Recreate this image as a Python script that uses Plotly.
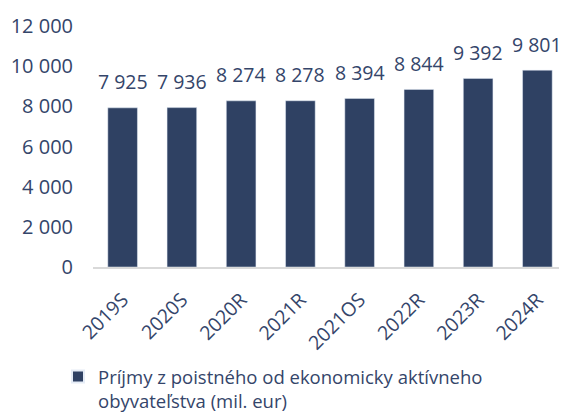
import plotly.graph_objects as go

categories = ["2019S", "2020S", "2020R", "2021R", "2021OS", "2022R", "2023R", "2024R"]
values = [7925, 7936, 8274, 8278, 8394, 8844, 9392, 9801]
tick_vals = [0, 2000, 4000, 6000, 8000, 10000, 12000]
tick_text = ["0", "2 000", "4 000", "6 000", "8 000", "10 000", "12 000"]
series_name = "Príjmy z poistného od ekonomicky aktívneho<br>obyvateľstva (mil. eur)"

bar_color = "#2F4163"
text_color = "#34456A"
font_family = "Open Sans, Noto Sans, sans-serif"

labels = [f"{v:,}".replace(",", " ") for v in values]

fig = go.Figure()
fig.add_trace(go.Bar(
    x=categories, y=values, name=series_name,
    marker_color=bar_color,
    showlegend=True,
))

for cat, val, lab in zip(categories, values, labels):
    fig.add_annotation(
        x=cat, y=val, text=lab, showarrow=False,
        xanchor="center", yanchor="middle", yshift=26,
        font=dict(size=19.5, color=text_color, family=font_family),
    )

# page body adds an 8px offset, so the figure is 8px smaller than the window
fig.update_layout(
    width=559, height=407,
    margin=dict(l=85, r=0, t=18, b=148),
    plot_bgcolor="white", paper_bgcolor="white",
    bargap=0.5,
    font=dict(family=font_family, size=20, color=text_color),
    xaxis=dict(tickangle=-45, showgrid=False, showline=True, linecolor="#D9D9D9",
               linewidth=1.5, ticks="", automargin=False, ticklabelstandoff=12,
               tickfont=dict(size=19.5, color=text_color)),
    yaxis=dict(range=[0, 12000], tickvals=tick_vals, ticktext=tick_text,
               showgrid=False, zeroline=False, showline=False, ticks="",
               automargin=False, ticklabelstandoff=19,
               tickfont=dict(size=20, color=text_color)),
    legend=dict(orientation="h", x=50 / 559, xanchor="left", xref="container",
                y=1 - 350 / 407, yanchor="top", yref="container", valign="top",
                font=dict(size=18.5, color=text_color), tracegroupgap=0,
                itemsizing="constant"),
)

fig.write_html("out.html")
